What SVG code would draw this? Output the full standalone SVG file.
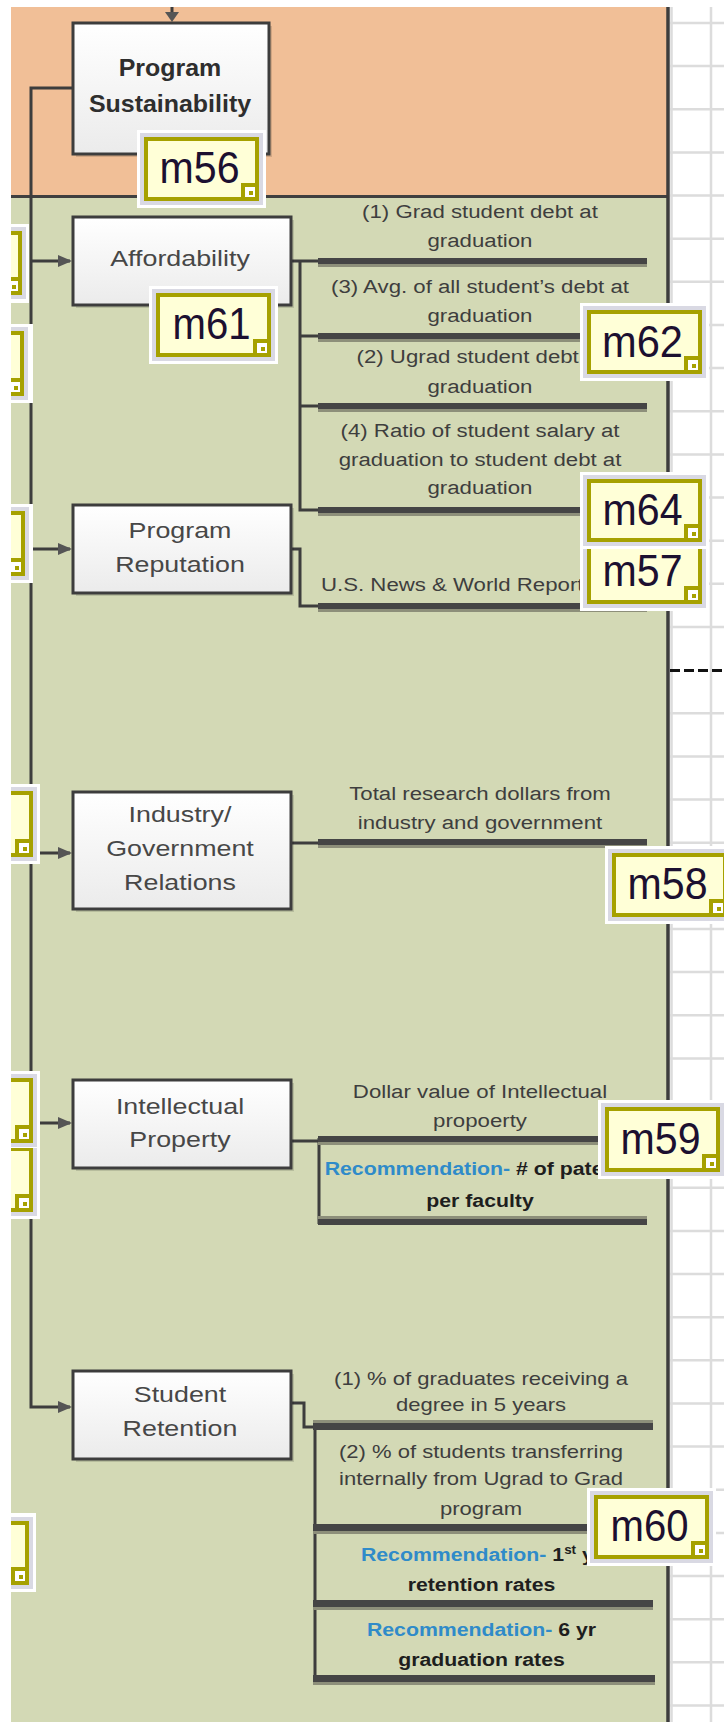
<svg xmlns="http://www.w3.org/2000/svg" width="724" height="1722" viewBox="0 0 724 1722">
<defs>
<style>
.bx{fill:url(#gb);stroke:#3d3d3d;stroke-width:3}
.sh{fill:#000;opacity:.13}
.bt{font-family:"Liberation Sans",Arial,sans-serif;font-size:22px;fill:#474747;text-anchor:middle}
.bb{font-family:"Liberation Sans",Arial,sans-serif;font-size:24px;font-weight:bold;fill:#2e2e2e;text-anchor:middle}
.mt{font-family:"Liberation Sans",Arial,sans-serif;font-size:19px;fill:#3e3e3e;text-anchor:middle}
.rt{font-family:"Liberation Sans",Arial,sans-serif;font-size:19px;font-weight:bold;fill:#1e1e1e;text-anchor:middle}
.bl{fill:#2f8bc9}
.cn{fill:none;stroke:#3d3d3d;stroke-width:3}
.ah{fill:#555}
.bar{fill:#454545}
.bs{fill:#8d8f7a}
.gw{fill:#fff}
.gl{fill:#d9d9e3}
.go{fill:#a6a100}
.gy{fill:#ffffd7}
.gt{font-family:"Liberation Sans",Arial,sans-serif;font-size:44px;fill:#1c1030;text-anchor:middle}
.grid{fill:none;stroke:#dcdcdc;stroke-width:2.5}
</style>
<linearGradient id="gb" x1="0" y1="0" x2="0" y2="1"><stop offset="0" stop-color="#ffffff"/><stop offset="1" stop-color="#ebebeb"/></linearGradient>
<clipPath id="clip"><rect x="11" y="0" width="713" height="1722"/></clipPath>
</defs>
<rect width="724" height="1722" fill="#fff"/>
<g clip-path="url(#clip)">
<g id="sheet-grid">
<path class="grid" d="M671.5 7V1722M711 7V1722"/>
<path class="grid" d="M670 23H724M670 66.1H724M670 109.3H724M670 152.4H724M670 195.6H724M670 238.7H724M670 281.8H724M670 325H724M670 368.1H724M670 411.3H724M670 454.4H724M670 497.5H724M670 540.7H724M670 583.8H724M670 627H724M670 713.2H724M670 756.4H724M670 799.5H724M670 842.7H724M670 885.8H724M670 928.9H724M670 972.1H724M670 1015.2H724M670 1058.4H724M670 1101.5H724M670 1144.6H724M670 1187.8H724M670 1230.9H724M670 1274.1H724M670 1317.2H724M670 1360.3H724M670 1403.5H724M670 1446.6H724M670 1489.8H724M670 1532.9H724M670 1576H724M670 1619.2H724M670 1662.3H724M670 1705.5H724"/>
<path d="M670 670.5H724" stroke="#111" stroke-width="3" stroke-dasharray="10 4"/>
</g>
<g id="panels">
<rect x="0" y="7" width="668" height="190" fill="#f1bf97"/>
<rect x="0" y="197" width="668" height="1525" fill="#d3d9b5"/>
<path d="M0 196.5H668" stroke="#404040" stroke-width="3"/>
<path d="M668 7V1722" stroke="#3d3d3d" stroke-width="3.5"/>
</g>
<g id="connectors">
<path class="cn" d="M172 7V15"/>
<polygon class="ah" points="165,12 179,12 172,22"/>
<path class="cn" d="M73 88H31V1407H70"/>
<path class="cn" d="M31 261H70M31 549H70M31 853H70M31 1123H70"/>
<polygon class="ah" points="58,255 72,261 58,267"/>
<polygon class="ah" points="58,543 72,549 58,555"/>
<polygon class="ah" points="58,847 72,853 58,859"/>
<polygon class="ah" points="58,1117 72,1123 58,1129"/>
<polygon class="ah" points="58,1401 72,1407 58,1413"/>
<path class="cn" d="M291 261H318M300 261V510H318M300 336H318M300 406H318"/>
<path class="cn" d="M291 549H300V606H318"/>
<path class="cn" d="M291 843H318"/>
<path class="cn" d="M291 1141H319M319 1138V1224"/>
<path class="cn" d="M291 1403H304V1427H315M315 1426V1681"/>
</g>
<g id="metric-bars">
<rect class="bar" x="318" y="258" width="329" height="6"/><rect class="bs" x="318" y="264" width="329" height="3"/>
<rect class="bar" x="318" y="333" width="329" height="6"/><rect class="bs" x="318" y="339" width="329" height="3"/>
<rect class="bar" x="318" y="403" width="329" height="6"/><rect class="bs" x="318" y="409" width="329" height="3"/>
<rect class="bar" x="318" y="507" width="329" height="6"/><rect class="bs" x="318" y="513" width="329" height="3"/>
<rect class="bar" x="318" y="603" width="329" height="6"/><rect class="bs" x="318" y="609" width="329" height="3"/>
<rect class="bar" x="318" y="839" width="329" height="6"/><rect class="bs" x="318" y="845" width="329" height="3"/>
<rect class="bar" x="318" y="1136" width="329" height="6"/><rect class="bs" x="318" y="1142" width="329" height="3"/>
<rect class="bs" x="318" y="1216" width="329" height="3"/><rect class="bar" x="318" y="1219" width="329" height="6"/>
<rect class="bs" x="313" y="1420" width="340" height="3"/><rect class="bar" x="313" y="1423" width="340" height="7"/>
<rect class="bar" x="313" y="1524" width="340" height="7"/><rect class="bs" x="313" y="1531" width="340" height="3"/>
<rect class="bar" x="313" y="1600" width="340" height="7"/><rect class="bs" x="313" y="1607" width="340" height="3"/>
<rect class="bar" x="313" y="1675" width="342" height="7"/><rect class="bs" x="313" y="1682" width="342" height="3"/>
</g>
<g id="node-sustainability">
<rect class="sh" x="76" y="26" width="196" height="131"/>
<rect class="bx" x="73" y="23" width="196" height="131"/>
<g transform="translate(170 0) scale(1.04 1)"><text class="bb" x="0" y="76">Program</text><text class="bb" x="0" y="112">Sustainability</text></g>
</g>
<g id="node-affordability">
<rect class="sh" x="76" y="220" width="218" height="88"/>
<rect class="bx" x="73" y="217" width="218" height="88"/>
<g transform="translate(180 0) scale(1.22 1)"><text class="bt" x="0" y="266.5">Affordability</text></g>
</g>
<g id="node-reputation">
<rect class="sh" x="76" y="508" width="218" height="88"/>
<rect class="bx" x="73" y="505" width="218" height="88"/>
<g transform="translate(180 0) scale(1.22 1)"><text class="bt" x="0" y="538">Program</text><text class="bt" x="0" y="572">Reputation</text></g>
</g>
<g id="node-industry">
<rect class="sh" x="76" y="795" width="218" height="117"/>
<rect class="bx" x="73" y="792" width="218" height="117"/>
<g transform="translate(180 0) scale(1.22 1)"><text class="bt" x="0" y="822">Industry/</text><text class="bt" x="0" y="856">Government</text><text class="bt" x="0" y="890">Relations</text></g>
</g>
<g id="node-ip">
<rect class="sh" x="76" y="1083" width="218" height="88"/>
<rect class="bx" x="73" y="1080" width="218" height="88"/>
<g transform="translate(180 0) scale(1.22 1)"><text class="bt" x="0" y="1114">Intellectual</text><text class="bt" x="0" y="1147">Property</text></g>
</g>
<g id="node-retention">
<rect class="sh" x="76" y="1374" width="218" height="88"/>
<rect class="bx" x="73" y="1371" width="218" height="88"/>
<g transform="translate(180 0) scale(1.22 1)"><text class="bt" x="0" y="1402">Student</text><text class="bt" x="0" y="1436">Retention</text></g>
</g>
<g id="metric-texts">
<g transform="translate(480 0) scale(1.17 1)">
<text class="mt" x="0" y="218">(1) Grad student debt at</text>
<text class="mt" x="0" y="247">graduation</text>
<text class="mt" x="0" y="293">(3) Avg. of all student’s debt at</text>
<text class="mt" x="0" y="322">graduation</text>
<text class="mt" x="0" y="363">(2) Ugrad student debt at</text>
<text class="mt" x="0" y="393">graduation</text>
<text class="mt" x="0" y="437">(4) Ratio of student salary at</text>
<text class="mt" x="0" y="466">graduation to student debt at</text>
<text class="mt" x="0" y="494">graduation</text>
<text class="mt" x="0" y="800">Total research dollars from</text>
<text class="mt" x="0" y="829">industry and government</text>
<text class="mt" x="0" y="1098">Dollar value of Intellectual</text>
<text class="mt" x="0" y="1127">propoerty</text>
</g>
<text class="mt" style="text-anchor:start" transform="translate(321 0) scale(1.17 1)" x="0" y="591">U.S. News &amp; World Report</text>
<g transform="translate(481 0) scale(1.16 1)">
<text class="mt" x="0" y="1385">(1) % of graduates receiving a</text>
<text class="mt" x="0" y="1411">degree in 5 years</text>
<text class="mt" x="0" y="1458">(2) % of students transferring</text>
<text class="mt" x="0" y="1485">internally from Ugrad to Grad</text>
<text class="mt" x="0" y="1515">program</text>
</g>
<g transform="translate(480 0) scale(1.12 1)">
<text class="rt" x="0" y="1175"><tspan class="bl">Recommendation-</tspan> # of patents</text>
<text class="rt" x="0" y="1207">per faculty</text>
</g>
<g transform="translate(481.5 0) scale(1.12 1)">
<text class="rt" x="0" y="1561"><tspan class="bl">Recommendation-</tspan> 1<tspan font-size="12" dy="-7">st</tspan><tspan dy="7"> yr</tspan></text>
<text class="rt" x="0" y="1591">retention rates</text>
<text class="rt" x="0" y="1636"><tspan class="bl">Recommendation-</tspan> 6 yr</text>
<text class="rt" x="0" y="1666">graduation rates</text>
</g>
</g>
<g id="badge-left-1" transform="translate(-93 231)"><rect class="gw" x="-7" y="-7" width="129" height="79"/><rect class="gl" x="-4" y="-4" width="123" height="72"/><rect class="go" width="115" height="64"/><rect class="gy" x="4" y="4" width="107" height="56"/><rect class="go" x="97" y="46" width="18" height="18"/><rect class="gw" x="101" y="50" width="10" height="10"/><rect class="go" x="105" y="54" width="4" height="4"/></g>
<g id="badge-left-2" transform="translate(-91 331)"><rect class="gw" x="-7" y="-7" width="131" height="79"/><rect class="gl" x="-4" y="-4" width="123" height="73"/><rect class="go" width="115" height="65"/><rect class="gy" x="4" y="4" width="107" height="57"/><rect class="go" x="97" y="47" width="18" height="18"/><rect class="gw" x="101" y="51" width="10" height="10"/><rect class="go" x="105" y="55" width="4" height="4"/></g>
<g id="badge-left-3" transform="translate(-90 511)"><rect class="gw" x="-7" y="-7" width="130" height="79"/><rect class="gl" x="-4" y="-4" width="123" height="73"/><rect class="go" width="115" height="65"/><rect class="gy" x="4" y="4" width="107" height="57"/><rect class="go" x="97" y="47" width="18" height="18"/><rect class="gw" x="101" y="51" width="10" height="10"/><rect class="go" x="105" y="55" width="4" height="4"/></g>
<g id="badge-left-4" transform="translate(-82 791)"><rect class="gw" x="-7" y="-7" width="129" height="80"/><rect class="gl" x="-4" y="-4" width="123" height="74"/><rect class="go" width="115" height="66"/><rect class="gy" x="4" y="4" width="107" height="58"/><rect class="go" x="97" y="48" width="18" height="18"/><rect class="gw" x="101" y="52" width="10" height="10"/><rect class="go" x="105" y="56" width="4" height="4"/></g>
<g id="badge-left-6" transform="translate(-82 1147)"><rect class="gw" x="-7" y="-7" width="129" height="79"/><rect class="gl" x="-4" y="-4" width="123" height="73"/><rect class="go" width="115" height="65"/><rect class="gy" x="4" y="4" width="107" height="57"/><rect class="go" x="97" y="47" width="18" height="18"/><rect class="gw" x="101" y="51" width="10" height="10"/><rect class="go" x="105" y="55" width="4" height="4"/></g>
<g id="badge-left-5" transform="translate(-82 1078)"><rect class="gw" x="-7" y="-7" width="129" height="77"/><rect class="gl" x="-4" y="-4" width="123" height="73"/><rect class="go" width="115" height="65"/><rect class="gy" x="4" y="4" width="107" height="57"/><rect class="go" x="97" y="47" width="18" height="18"/><rect class="gw" x="101" y="51" width="10" height="10"/><rect class="go" x="105" y="55" width="4" height="4"/></g>
<g id="badge-left-7" transform="translate(-86 1521)"><rect class="gw" x="-7" y="-8" width="129" height="79"/><rect class="gl" x="-4" y="-4" width="123" height="72"/><rect class="go" width="115" height="64"/><rect class="gy" x="4" y="4" width="107" height="56"/><rect class="go" x="97" y="46" width="18" height="18"/><rect class="gw" x="101" y="50" width="10" height="10"/><rect class="go" x="105" y="54" width="4" height="4"/></g>
<g id="m56" transform="translate(144 137)"><rect class="gw" x="-7" y="-7" width="129" height="78"/><rect class="gl" x="-4" y="-4" width="123" height="72"/><rect class="go" width="115" height="64"/><rect class="gy" x="4" y="4" width="107" height="56"/><rect class="go" x="97" y="46" width="18" height="18"/><rect class="gw" x="101" y="50" width="10" height="10"/><rect class="go" x="105" y="54" width="4" height="4"/><text class="gt" x="55.5" y="46" textLength="80" lengthAdjust="spacingAndGlyphs">m56</text></g>
<g id="m61" transform="translate(156 293)"><rect class="gw" x="-7" y="-7" width="129" height="78"/><rect class="gl" x="-4" y="-4" width="123" height="72"/><rect class="go" width="115" height="64"/><rect class="gy" x="4" y="4" width="107" height="56"/><rect class="go" x="97" y="46" width="18" height="18"/><rect class="gw" x="101" y="50" width="10" height="10"/><rect class="go" x="105" y="54" width="4" height="4"/><text class="gt" x="55.5" y="46" textLength="78" lengthAdjust="spacingAndGlyphs">m61</text></g>
<g id="m62" transform="translate(587 310)"><rect class="gw" x="-7" y="-7" width="129" height="78"/><rect class="gl" x="-4" y="-4" width="123" height="72"/><rect class="go" width="115" height="64"/><rect class="gy" x="4" y="4" width="107" height="56"/><rect class="go" x="97" y="46" width="18" height="18"/><rect class="gw" x="101" y="50" width="10" height="10"/><rect class="go" x="105" y="54" width="4" height="4"/><text class="gt" x="55.5" y="47" textLength="81" lengthAdjust="spacingAndGlyphs">m62</text></g>
<g id="m57" transform="translate(587 540)"><rect class="gw" x="-7" y="-7" width="129" height="78"/><rect class="gl" x="-4" y="-4" width="123" height="72"/><rect class="go" width="115" height="64"/><rect class="gy" x="4" y="4" width="107" height="56"/><rect class="go" x="97" y="46" width="18" height="18"/><rect class="gw" x="101" y="50" width="10" height="10"/><rect class="go" x="105" y="54" width="4" height="4"/><text class="gt" x="55.5" y="46" textLength="80" lengthAdjust="spacingAndGlyphs">m57</text></g>
<g id="m64" transform="translate(587 479)"><rect class="gw" x="-7" y="-7" width="129" height="77"/><rect class="gl" x="-4" y="-4" width="123" height="71"/><rect class="go" width="115" height="63"/><rect class="gy" x="4" y="4" width="107" height="55"/><rect class="go" x="97" y="45" width="18" height="18"/><rect class="gw" x="101" y="49" width="10" height="10"/><rect class="go" x="105" y="53" width="4" height="4"/><text class="gt" x="55.5" y="46" textLength="80" lengthAdjust="spacingAndGlyphs">m64</text></g>
<g id="m58" transform="translate(612 853)"><rect class="gw" x="-7" y="-7" width="129" height="78"/><rect class="gl" x="-4" y="-4" width="123" height="72"/><rect class="go" width="115" height="64"/><rect class="gy" x="4" y="4" width="107" height="56"/><rect class="go" x="97" y="46" width="18" height="18"/><rect class="gw" x="101" y="50" width="10" height="10"/><rect class="go" x="105" y="54" width="4" height="4"/><text class="gt" x="55.5" y="46" textLength="80" lengthAdjust="spacingAndGlyphs">m58</text></g>
<g id="m59" transform="translate(605 1107)"><rect class="gw" x="-7" y="-7" width="129" height="79"/><rect class="gl" x="-4" y="-4" width="123" height="73"/><rect class="go" width="115" height="65"/><rect class="gy" x="4" y="4" width="107" height="57"/><rect class="go" x="97" y="47" width="18" height="18"/><rect class="gw" x="101" y="51" width="10" height="10"/><rect class="go" x="105" y="55" width="4" height="4"/><text class="gt" x="55.5" y="47" textLength="80" lengthAdjust="spacingAndGlyphs">m59</text></g>
<g id="m60" transform="translate(594 1495)"><rect class="gw" x="-7" y="-7" width="129" height="78"/><rect class="gl" x="-4" y="-4" width="123" height="72"/><rect class="go" width="115" height="64"/><rect class="gy" x="4" y="4" width="107" height="56"/><rect class="go" x="97" y="46" width="18" height="18"/><rect class="gw" x="101" y="50" width="10" height="10"/><rect class="go" x="105" y="54" width="4" height="4"/><text class="gt" x="55.5" y="46" textLength="78" lengthAdjust="spacingAndGlyphs">m60</text></g>
</g>
</svg>
